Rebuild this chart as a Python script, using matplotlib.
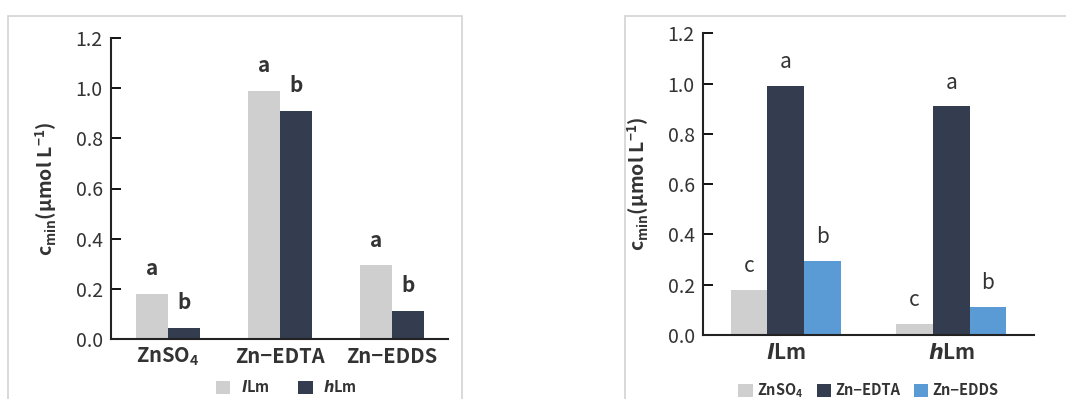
import matplotlib.pyplot as plt
from matplotlib.patches import Rectangle
import numpy as np

plt.rcParams['font.family'] = ['Noto Sans CJK SC', 'DejaVu Sans']
plt.rcParams['mathtext.fontset'] = 'custom'
plt.rcParams['mathtext.rm'] = 'Noto Sans CJK SC'
plt.rcParams['mathtext.it'] = 'DejaVu Sans:italic:bold'
plt.rcParams['mathtext.bf'] = 'Noto Sans CJK SC:bold'

# data
treatments = ["ZnSO$_\\mathbf{4}$", "Zn\u2212EDTA", "Zn\u2212EDDS"]
lLm_vals = [0.18, 0.99, 0.295]
hLm_vals = [0.045, 0.91, 0.113]
lLm_letters = ["a", "a", "a"]
hLm_letters = ["b", "b", "b"]

groups = ["$\\mathit{l}$Lm", "$\\mathit{h}$Lm"]
znso4_vals = [0.18, 0.045]
edta_vals = [0.99, 0.91]
edds_vals = [0.295, 0.113]
znso4_letters = ["c", "c"]
edta_letters = ["a", "a"]
edds_letters = ["b", "b"]

light = "#D0CFCF"
navy = "#333D4F"
blue = "#5B9BD5"
txt = "#333333"

W, H = 1066, 399
fig = plt.figure(figsize=(W / 100, H / 100), dpi=100)

# light grey panel frames
fig.patches.append(Rectangle((8 / W, -0.1), (462 - 8) / W, 1.1 - 16 / H,
                             transform=fig.transFigure, fill=False,
                             edgecolor="#D3D3D3", lw=1.2))
fig.patches.append(Rectangle((625 / W, -0.1), 0.5, 1.1 - 16 / H,
                             transform=fig.transFigure, fill=False,
                             edgecolor="#D3D3D3", lw=1.2))


def style_axes(ax):
    ax.set_ylim(0, 1.2)
    ticks = np.arange(0, 1.21, 0.2)
    ax.set_yticks(ticks)
    ax.set_yticklabels([f"{v:.1f}" for v in ticks], fontsize=14,
                       color=txt, fontweight="normal")
    ax.spines["top"].set_visible(False)
    ax.spines["right"].set_visible(False)
    for s in ["left", "bottom"]:
        ax.spines[s].set_linewidth(1.5)
        ax.spines[s].set_color("#222222")
    ax.tick_params(axis="y", direction="in", length=7, width=1.3, pad=6)
    ax.tick_params(axis="x", length=0, pad=5)
    ax.set_ylabel("c$_{\\mathbf{min}}$(\u03bcmol L$^{\\mathbf{-1}}$)",
                  fontsize=14, fontweight="bold", color=txt, labelpad=12)


# left panel
ax1 = fig.add_axes([111 / W, (H - 339) / H, 337 / W, 301 / H])
x1 = np.arange(len(treatments))
bw1 = 0.285
b1 = ax1.bar(x1 - bw1 / 2, lLm_vals, bw1, color=light, label="$\\mathit{l}$Lm")
b2 = ax1.bar(x1 + bw1 / 2, hLm_vals, bw1, color=navy, label="$\\mathit{h}$Lm")
ax1.set_xlim(-0.51, 2.5)
style_axes(ax1)
ax1.set_xticks(x1)
ax1.set_xticklabels(treatments, fontsize=14.5, fontweight="bold", color=txt)
for xi, v, s in zip(x1 - bw1 / 2, lLm_vals, lLm_letters):
    ax1.annotate(s, (xi, v), xytext=(0, 18), textcoords="offset points",
                 ha="center", va="center", fontsize=15, fontweight="semibold", color=txt)
for xi, v, s in zip(x1 + bw1 / 2, hLm_vals, hLm_letters):
    ax1.annotate(s, (xi, v), xytext=(0, 18), textcoords="offset points",
                 ha="center", va="center", fontsize=15, fontweight="semibold", color=txt)
leg1 = ax1.legend(handles=[b1, b2], loc="center", bbox_to_anchor=(0.52, -0.16),
                  ncol=2, frameon=False, handlelength=1.0,
                  handleheight=1.0, columnspacing=2.0, handletextpad=0.7,
                  prop={"weight": "bold", "size": 10.5})
for t in leg1.get_texts():
    t.set_color(txt)

# right panel
ax2 = fig.add_axes([703 / W, (H - 335) / H, 331 / W, 301.7 / H])
x2 = np.arange(len(groups))
bw2 = 0.221
c1 = ax2.bar(x2 - bw2, znso4_vals, bw2, color=light, label="ZnSO$_\\mathbf{4}$")
c2 = ax2.bar(x2, edta_vals, bw2, color=navy, label="Zn\u2212EDTA")
c3 = ax2.bar(x2 + bw2, edds_vals, bw2, color=blue, label="Zn\u2212EDDS")
ax2.set_xlim(-0.5, 1.5)
style_axes(ax2)
ax2.set_xticks(x2)
ax2.set_xticklabels(groups, fontsize=15, fontweight="bold", color=txt)
for off, vals, letters in [(-bw2, znso4_vals, znso4_letters),
                           (0, edta_vals, edta_letters),
                           (bw2, edds_vals, edds_letters)]:
    for xi, v, s in zip(x2 + off, vals, letters):
        ax2.annotate(s, (xi, v), xytext=(0, 17), textcoords="offset points",
                     ha="center", va="center", fontsize=15, color=txt)
leg2 = ax2.legend(handles=[c1, c2, c3], loc="center", bbox_to_anchor=(0.5, -0.185),
                  ncol=3, frameon=False, handlelength=1.0, handleheight=1.0,
                  columnspacing=0.9, handletextpad=0.3,
                  prop={"weight": "bold", "size": 10.5})
for t in leg2.get_texts():
    t.set_color(txt)

fig.savefig("out.png", dpi=100)
